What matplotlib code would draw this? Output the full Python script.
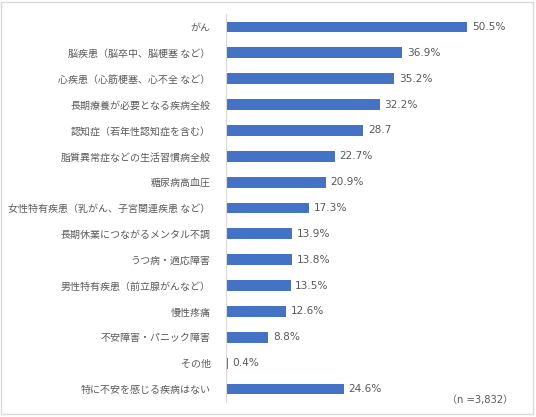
import matplotlib.pyplot as plt
import numpy as np
from matplotlib.patches import Rectangle

plt.rcParams['font.family'] = ['Noto Sans CJK JP', 'DejaVu Sans']

# categories and values (percent), top to bottom
categories = [
    'がん',
    '脳疾患（脳卒中、脳梗塞 など）',
    '心疾患（心筋梗塞、心不全 など）',
    '長期療養が必要となる疾病全般',
    '認知症（若年性認知症を含む）',
    '脂質異常症などの生活習慣病全般',
    '糖尿病高血圧',
    '女性特有疾患（乳がん、子宮関連疾患 など）',
    '長期休業につながるメンタル不調',
    'うつ病・適応障害',
    '男性特有疾患（前立腺がんなど）',
    '慢性疼痛',
    '不安障害・パニック障害',
    'その他',
    '特に不安を感じる疾病はない',
]
values = [50.5, 36.9, 35.2, 32.2, 28.7, 22.7, 20.9, 17.3, 13.9, 13.8, 13.5, 12.6, 8.8, 0.4, 24.6]
value_labels = ['50.5%', '36.9%', '35.2%', '32.2%', '28.7', '22.7%', '20.9%', '17.3%',
                '13.9%', '13.8%', '13.5%', '12.6%', '8.8%', '0.4%', '24.6%']
note = '（n =3,832）'

bar_color = '#4472C4'
text_color = '#595959'
num_font = ['DejaVu Sans', 'Noto Sans CJK JP']

fig = plt.figure(figsize=(5.36, 4.17), dpi=100)
ax = fig.add_axes([226 / 536, 15 / 417, 288 / 536, 388 / 417])

y = np.arange(len(categories))
ax.barh(y, values, height=0.42, color=bar_color)

ax.set_xlim(0, 288 / 4.78)
ax.set_ylim(len(categories) - 0.5, -0.5)

for yi, v, lab in zip(y, values, value_labels):
    ax.text(v + 1.0, yi, lab, ha='left', va='center', fontsize=7.6,
            color=text_color, family=num_font)

ax.set_yticks(y)
ax.set_yticklabels(categories, fontsize=7.2, color=text_color)
ax.tick_params(axis='y', length=0, pad=11)
ax.set_xticks([])

for s in ['top', 'right', 'bottom']:
    ax.spines[s].set_visible(False)
ax.spines['left'].set_color('#d9d9d9')
ax.spines['left'].set_linewidth(0.8)

fig.text(513 / 536, 1 - 400 / 417, note, ha='right', va='center', fontsize=7.2,
         color=text_color, family=num_font)

# light grey frame around the whole chart
fig.patches.append(Rectangle((0.002, 0.006), 0.993, 0.99, transform=fig.transFigure,
                             fill=False, edgecolor='#d9d9d9', linewidth=1.0))

fig.savefig('out.png', dpi=100)
